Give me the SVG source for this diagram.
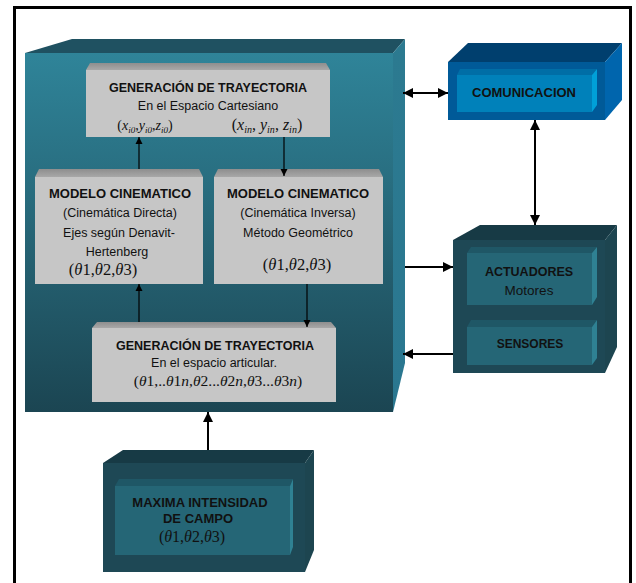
<svg xmlns="http://www.w3.org/2000/svg" width="636" height="583" viewBox="0 0 636 583">
<defs>
<linearGradient id="gMain" x1="0" y1="0" x2="0" y2="1">
<stop offset="0" stop-color="#2f8499"/>
<stop offset="0.5" stop-color="#266576"/>
<stop offset="1" stop-color="#1b4552"/>
</linearGradient>
<linearGradient id="gSide" x1="0" y1="0" x2="0" y2="1">
<stop offset="0" stop-color="#2c7a90"/>
<stop offset="1" stop-color="#2a7790"/>
</linearGradient>
<linearGradient id="gGrayTop" x1="0" y1="0" x2="0" y2="1">
<stop offset="0" stop-color="#8e8e8e"/>
<stop offset="1" stop-color="#a8a8a8"/>
</linearGradient>
<marker id="ah" viewBox="0 0 10 10" refX="10" refY="5" markerWidth="5" markerHeight="5" markerUnits="strokeWidth" orient="auto-start-reverse">
<path d="M0,0 L10,5 L0,10 z" fill="#000"/>
</marker>
<marker id="ahs" viewBox="0 0 10 10" refX="10" refY="5" markerWidth="6" markerHeight="6" markerUnits="strokeWidth" orient="auto-start-reverse">
<path d="M0,0 L10,5 L0,10 z" fill="#000"/>
</marker>
</defs>
<style>
.b{font-family:"Liberation Sans",Arial,sans-serif;font-weight:bold;fill:#111;text-anchor:middle}
.r{font-family:"Liberation Sans",Arial,sans-serif;fill:#111;text-anchor:middle;font-size:12.5px}
.m{font-family:"Liberation Serif","Times New Roman",serif;fill:#111;text-anchor:middle}
.i{font-style:italic}
.grayF{fill:#c6c6c6}
.grayT{fill:url(#gGrayTop)}
.dkF{fill:#1e4855}
.dkT{fill:#173a45}
.dkS{fill:#1d4550}
.inF{fill:#256676}
.inT{fill:#1f5766}
.inS{fill:#2f8193}
.thick{stroke:#000;stroke-width:2;fill:none}
.thin{stroke:#000;stroke-width:1.2;fill:none}
</style>
<rect x="0" y="0" width="636" height="583" fill="#fff"/>
<rect x="14.5" y="7.5" width="616" height="600" fill="none" stroke="#000" stroke-width="3"/>

<g id="sistema-control">
<polygon points="25,53 72,39 405,39 393,53" fill="#1f5161"/>
<polygon points="393,53 405,39 405,363 393,412" fill="url(#gSide)"/>
<rect x="25" y="53" width="368" height="359" fill="url(#gMain)"/>
</g>

<g id="gen-cartesiano">
<polygon points="86,70 90,63 326,63 330,70" class="grayT"/>
<rect x="86" y="70" width="244" height="67" class="grayF"/>
<text x="208" y="92" class="b" font-size="12.5">GENERACIÓN DE TRAYECTORIA</text>
<text x="208" y="110" class="r">En el Espacio  Cartesiano</text>
<text x="145" y="130" class="m" font-size="14">(<tspan class="i">x</tspan><tspan font-size="9" dy="3" class="i">i0</tspan><tspan dy="-3">,</tspan><tspan class="i">y</tspan><tspan font-size="9" dy="3" class="i">i0</tspan><tspan dy="-3">,</tspan><tspan class="i">z</tspan><tspan font-size="9" dy="3" class="i">i0</tspan><tspan dy="-3">)</tspan></text>
<text x="267" y="130" class="m" font-size="16">(<tspan class="i">x</tspan><tspan font-size="10" dy="3" class="i">in</tspan><tspan dy="-3">, </tspan><tspan class="i">y</tspan><tspan font-size="10" dy="3" class="i">in</tspan><tspan dy="-3">, </tspan><tspan class="i">z</tspan><tspan font-size="10" dy="3" class="i">in</tspan><tspan dy="-3">)</tspan></text>
</g>

<g id="modelo-directo">
<polygon points="35,177 39,169 199,169 203,177" class="grayT"/>
<rect x="35" y="177" width="168" height="107" class="grayF"/>
<text x="120" y="198" class="b" font-size="13">MODELO CINEMATICO</text>
<text x="120" y="217" class="r">(Cinemática Directa)</text>
<text x="119" y="237" class="r">Ejes según Denavit-</text>
<text x="117" y="256" class="r">Hertenberg</text>
<text x="103" y="275" class="m" font-size="16.5">(<tspan class="i">θ</tspan>1,<tspan class="i">θ</tspan>2,<tspan class="i">θ</tspan>3)</text>
</g>

<g id="modelo-inverso">
<polygon points="214,177 218,169 379,169 383,177" class="grayT"/>
<rect x="214" y="177" width="169" height="107" class="grayF"/>
<text x="298" y="198" class="b" font-size="13">MODELO CINEMATICO</text>
<text x="298" y="217" class="r">(Cinemática  Inversa)</text>
<text x="298" y="237" class="r">Método Geométrico</text>
<text x="297" y="270" class="m" font-size="16.5">(<tspan class="i">θ</tspan>1,<tspan class="i">θ</tspan>2,<tspan class="i">θ</tspan>3)</text>
</g>

<g id="gen-articular">
<polygon points="92,328 97,322 331,322 336,328" class="grayT"/>
<rect x="92" y="328" width="244" height="74" class="grayF"/>
<text x="215" y="350" class="b" font-size="12.5">GENERACIÓN DE TRAYECTORIA</text>
<text x="214" y="367" class="r">En el espacio articular.</text>
<text x="218" y="386" class="m" font-size="15.5">(<tspan class="i">θ</tspan>1,..<tspan class="i">θ</tspan>1<tspan class="i">n</tspan>,<tspan class="i">θ</tspan>2...<tspan class="i">θ</tspan>2<tspan class="i">n</tspan>,<tspan class="i">θ</tspan>3...<tspan class="i">θ</tspan>3<tspan class="i">n</tspan>)</text>
</g>

<g id="comunicacion">
<polygon points="448,62 468,43 622,43 605,62" fill="#003f6e"/>
<polygon points="605,62 622,43 622,100 605,120" fill="#0065ad"/>
<rect x="448" y="62" width="157" height="58" fill="#005a98"/>
<polygon points="457,75 460,69 597,69 592,75" fill="#006ea6"/>
<polygon points="592,75 597,69 597,105 592,112" fill="#00a0d8"/>
<rect x="457" y="75" width="135" height="37" fill="#0081ba"/>
<text x="524" y="97" class="b" font-size="13">COMUNICACION</text>
</g>

<g id="bloque-perifericos">
<polygon points="453,240 480,225 617,225 605,240" class="dkT"/>
<polygon points="605,240 617,225 617,347 605,373" class="dkS"/>
<rect x="453" y="240" width="152" height="133" class="dkF"/>
</g>

<g id="actuadores">
<polygon points="467,253 471,247 597,247 592,253" class="inT"/>
<polygon points="592,253 597,247 597,297 592,305" class="inS"/>
<rect x="467" y="253" width="125" height="52" class="inF"/>
<text x="529" y="276" class="b" font-size="12.5">ACTUADORES</text>
<text x="529" y="295" class="r" style="font-size:13.5px">Motores</text>
</g>

<g id="sensores">
<polygon points="467,327 471,320 597,320 592,327" class="inT"/>
<polygon points="592,327 597,320 597,358 592,365" class="inS"/>
<rect x="467" y="327" width="125" height="38" class="inF"/>
<text x="530" y="348" class="b" font-size="12">SENSORES</text>
</g>

<g id="maxima-intensidad">
<polygon points="103,463 123,450 314,450 305,463" class="dkT"/>
<polygon points="305,463 314,450 314,550 305,572" class="dkS"/>
<rect x="103" y="463" width="202" height="109" class="dkF"/>
<polygon points="115,486 119,479 293,479 290,486" class="inT"/>
<polygon points="290,486 293,479 293,547 290,555" class="inS"/>
<rect x="115" y="486" width="175" height="69" class="inF"/>
<text x="200" y="507" class="b" font-size="13">MAXIMA INTENSIDAD</text>
<text x="198" y="523" class="b" font-size="13">DE CAMPO</text>
<text x="192" y="542" class="m" font-size="16">(<tspan class="i">θ</tspan>1,<tspan class="i">θ</tspan>2,<tspan class="i">θ</tspan>3)</text>
</g>

<g id="conectores">
<line x1="139" y1="169" x2="139" y2="137" class="thin" marker-end="url(#ahs)"/>
<line x1="284" y1="137" x2="284" y2="176" class="thin" marker-end="url(#ahs)"/>
<line x1="139" y1="322" x2="139" y2="284" class="thin" marker-end="url(#ahs)"/>
<line x1="307" y1="284" x2="307" y2="327" class="thin" marker-end="url(#ahs)"/>
<line x1="403" y1="93" x2="448" y2="93" class="thick" marker-start="url(#ah)" marker-end="url(#ah)"/>
<line x1="535" y1="120" x2="535" y2="225" class="thick" marker-start="url(#ah)" marker-end="url(#ah)"/>
<line x1="405" y1="267" x2="453" y2="267" class="thick" marker-end="url(#ah)"/>
<line x1="453" y1="354" x2="403" y2="354" class="thick" marker-end="url(#ah)"/>
<line x1="208" y1="450" x2="208" y2="412" class="thick" marker-end="url(#ah)"/>
</g>
</svg>
